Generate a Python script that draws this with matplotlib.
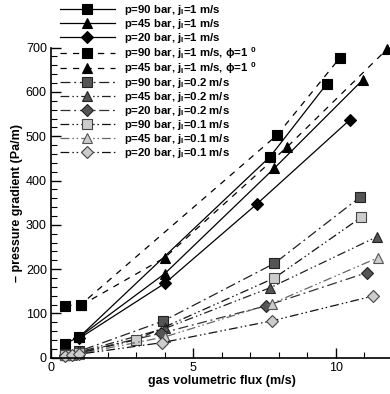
import matplotlib
matplotlib.use("Agg")
import matplotlib.pyplot as plt
from matplotlib.ticker import MultipleLocator

plt.rcParams['font.family'] = ['Liberation Sans', 'DejaVu Sans']
plt.rcParams['mathtext.fontset'] = 'custom'
plt.rcParams['mathtext.rm'] = 'Liberation Sans:bold'
plt.rcParams['mathtext.default'] = 'rm'

# ---- data ----
x90_j1 = [0.5, 1.0, 7.7, 9.7]
y90_j1 = [32, 47, 454, 619]
x45_j1 = [1.0, 4.0, 7.85, 10.95]
y45_j1 = [47, 190, 428, 627]
x20_j1 = [1.0, 4.0, 7.25, 10.5]
y20_j1 = [44, 168, 348, 537]
x90_phi = [0.5, 1.05, 7.95, 10.15]
y90_phi = [117, 120, 503, 677]
x45_phi = [1.05, 4.0, 8.3, 11.8]
y45_phi = [118, 226, 476, 696]
x90_j02 = [0.5, 1.0, 3.95, 7.85, 10.85]
y90_j02 = [8, 15, 83, 213, 362]
x45_j02 = [0.5, 1.0, 4.0, 7.7, 11.45]
y45_j02 = [7, 13, 66, 158, 273]
x20_j02 = [0.5, 1.0, 3.85, 7.55, 11.1]
y20_j02 = [6, 12, 55, 117, 192]
x90_j01 = [0.5, 1.0, 3.0, 7.85, 10.9]
y90_j01 = [6, 10, 41, 180, 317]
x45_j01 = [0.5, 0.75, 1.0, 4.0, 7.75, 11.5]
y45_j01 = [5, 6, 9, 47, 122, 226]
x20_j01 = [0.5, 0.75, 1.0, 3.9, 7.75, 11.3]
y20_j01 = [4, 5, 8, 34, 83, 139]

labels = [
    r'p=90 bar, j$_{l}$=1 m/s',
    r'p=45 bar, j$_{l}$=1 m/s',
    r'p=20 bar, j$_{l}$=1 m/s',
    r'p=90 bar, j$_{l}$=1 m/s, ϕ=1 $^{0}$',
    r'p=45 bar, j$_{l}$=1 m/s, ϕ=1 $^{0}$',
    r'p=90 bar, j$_{l}$=0.2 m/s',
    r'p=45 bar, j$_{l}$=0.2 m/s',
    r'p=20 bar, j$_{l}$=0.2 m/s',
    r'p=90 bar, j$_{l}$=0.1 m/s',
    r'p=45 bar, j$_{l}$=0.1 m/s',
    r'p=20 bar, j$_{l}$=0.1 m/s',
]

fig = plt.figure(figsize=(3.9, 3.94), dpi=100)
ax = fig.add_axes([0.1308, 0.0921, 0.8757, 0.787])

dark = '#555555'
light = '#cccccc'
dashed = (0, (5, 5))
dashdot = (0, (8, 3, 1.5, 3))
dashdotdot = (0, (7, 2.5, 1.2, 2.2, 1.2, 2.5))

series = [
    (x90_j1, y90_j1, 's', 6.5, 'black', 'black', '-', 'black'),
    (x45_j1, y45_j1, '^', 7, 'black', 'black', '-', 'black'),
    (x20_j1, y20_j1, 'D', 6, 'black', 'black', '-', 'black'),
    (x90_phi, y90_phi, 's', 6.5, 'black', 'black', dashed, 'black'),
    (x45_phi, y45_phi, '^', 7, 'black', 'black', dashed, 'black'),
    (x90_j02, y90_j02, 's', 6.5, dark, '#222222', dashdot, '#222222'),
    (x45_j02, y45_j02, '^', 7, dark, '#222222', dashdotdot, '#222222'),
    (x20_j02, y20_j02, 'D', 6, dark, '#222222', dashdot, '#333333'),
    (x90_j01, y90_j01, 's', 6.5, light, '#444444', dashdotdot, '#111111'),
    (x45_j01, y45_j01, '^', 7, light, '#555555', dashdotdot, '#666666'),
    (x20_j01, y20_j01, 'D', 6, light, '#444444', dashdotdot, '#111111'),
]

handles = []
for (xs, ys, m, ms, fc, ec, ls, lc), lab in zip(series, labels):
    h, = ax.plot(xs, ys, linestyle=ls, color=lc, lw=0.9, marker=m,
                 markersize=ms, markerfacecolor=fc, markeredgecolor=ec,
                 markeredgewidth=0.8, label=lab, clip_on=False)
    handles.append(h)

ax.set_xlim(0, 12)
ax.set_ylim(0, 700)
ax.xaxis.set_major_locator(MultipleLocator(5))
ax.xaxis.set_minor_locator(MultipleLocator(1))
ax.yaxis.set_major_locator(MultipleLocator(100))
ax.yaxis.set_minor_locator(MultipleLocator(20))
ax.tick_params(which='major', direction='in', length=7, width=1, labelsize=9, pad=3)
ax.tick_params(which='minor', direction='in', length=4, width=0.8)
ax.tick_params(top=False, right=False)
for s in ['top', 'right']:
    ax.spines[s].set_visible(False)
for s in ['left', 'bottom']:
    ax.spines[s].set_linewidth(1.2)

ax.set_xlabel('gas volumetric flux (m/s)', fontsize=9, fontweight='bold', labelpad=1)
ax.set_ylabel('– pressure gradient (Pa/m)', fontsize=9, fontweight='bold', labelpad=2)

leg = ax.legend(handles=handles, loc='upper left',
                bbox_to_anchor=(0.154, 0.993), bbox_transform=fig.transFigure,
                frameon=False, borderpad=0, borderaxespad=0,
                handlelength=4.8, handletextpad=0.8, labelspacing=0.0,
                prop={'family': 'Liberation Sans', 'weight': 'bold', 'size': 8.2})

fig.savefig('out.png', dpi=100)
